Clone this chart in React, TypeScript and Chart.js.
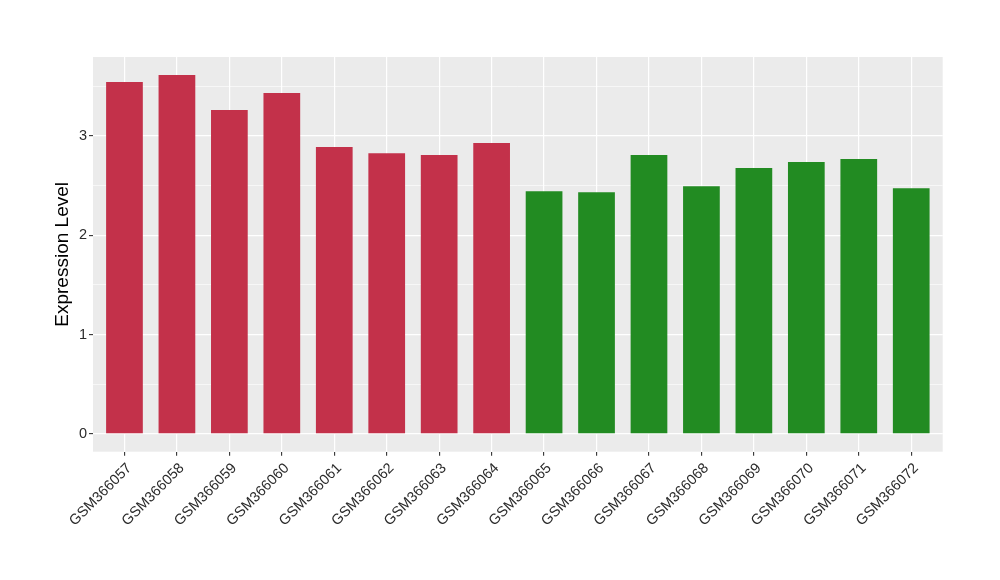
import React, { useEffect, useRef } from "react";
import { Chart, registerables } from "chart.js";

Chart.register(...registerables);

const sampleLabels: string[] = [
  "GSM366057", "GSM366058", "GSM366059", "GSM366060",
  "GSM366061", "GSM366062", "GSM366063", "GSM366064",
  "GSM366065", "GSM366066", "GSM366067", "GSM366068",
  "GSM366069", "GSM366070", "GSM366071", "GSM366072",
];

const expressionValues: number[] = [
  3.545, 3.616, 3.262, 3.434, 2.889, 2.828, 2.808, 2.929,
  2.445, 2.435, 2.808, 2.495, 2.677, 2.738, 2.768, 2.475,
];

const groups: string[] = [
  "a", "a", "a", "a", "a", "a", "a", "a",
  "b", "b", "b", "b", "b", "b", "b", "b",
];

const groupColors: Record<string, string> = { a: "#C3314A", b: "#228B22" };

const yTickValues: number[] = [0, 0.5, 1, 1.5, 2, 2.5, 3, 3.5];

const FONT = "'Liberation Sans', Arial, Helvetica, sans-serif";
const TEXT_COLOR = "#2B2B2B";

export default function App() {
  const ref = useRef<HTMLCanvasElement | null>(null);

  useEffect(() => {
    if (!ref.current) return;
    const panelBg = {
      id: "panelBg",
      beforeDraw(chart: any) {
        const { ctx, chartArea } = chart;
        ctx.save();
        ctx.fillStyle = "#EBEBEB";
        ctx.fillRect(chartArea.left, chartArea.top, chartArea.right - chartArea.left, chartArea.bottom - chartArea.top);
        ctx.restore();
      },
    };
    const maxV = Math.max(...expressionValues);
    const pad = maxV * 0.05;
    const chart = new Chart(ref.current, {
      type: "bar",
      data: {
        datasets: [
          {
            data: expressionValues.map((v, i) => ({ x: i, y: v })),
            backgroundColor: groups.map((g) => groupColors[g]),
            barPercentage: 0.7,
            categoryPercentage: 1,
            borderWidth: 0,
          },
        ],
      },
      options: {
        responsive: false,
        animation: false,
        layout: { padding: { left: 0, top: 57, right: 57.3, bottom: 0 } },
        plugins: { legend: { display: false }, tooltip: { enabled: false } },
        scales: {
          x: {
            type: "linear",
            offset: false,
            min: -0.6,
            max: sampleLabels.length - 1 + 0.6,
            afterBuildTicks: (s: any) => {
              s.ticks = sampleLabels.map((_, i) => ({ value: i }));
            },
            afterFit: (s: any) => {
              s.height = 580 - 451.7;
            },
            border: { display: false },
            grid: {
              offset: false,
              color: "#FFFFFF",
              lineWidth: 1.2,
              tickColor: "#333333",
              tickLength: 4,
              tickWidth: 1.1,
            },
            ticks: {
              autoSkip: false,
              minRotation: 45,
              maxRotation: 45,
              padding: 4,
              labelOffset: 5,
              color: TEXT_COLOR,
              font: { size: 14.5, family: FONT },
              callback: (v: any) => sampleLabels[v as number] ?? "",
            },
          },
          y: {
            type: "linear",
            min: -pad,
            max: maxV + pad,
            afterBuildTicks: (s: any) => {
              s.ticks = yTickValues.map((v) => ({ value: v }));
            },
            afterFit: (s: any) => {
              s.width = 93;
            },
            border: { display: false },
            grid: {
              color: "#FFFFFF",
              lineWidth: (c: any) => (Number.isInteger(c.tick?.value) ? 1.2 : 0.6),
              tickColor: (c: any) => (Number.isInteger(c.tick?.value) ? "#333333" : "rgba(0,0,0,0)"),
              tickLength: 4,
              tickWidth: 1.1,
            },
            ticks: {
              padding: 2,
              color: TEXT_COLOR,
              font: { size: 14.5, family: FONT },
              callback: (v: any) => (Number.isInteger(v) ? String(v) : ""),
            },
            title: {
              display: true,
              text: "Expression Level",
              color: "#000000",
              font: { size: 19, family: FONT },
              padding: { top: 51, bottom: 0 },
            },
          },
        },
      },
      plugins: [panelBg],
    });
    return () => chart.destroy();
  }, []);

  return (
    <div style={{ position: "absolute", left: 0, top: 0, width: 1000, height: 580, background: "#FFFFFF" }}>
      <canvas ref={ref} width={1000} height={580} />
    </div>
  );
}
